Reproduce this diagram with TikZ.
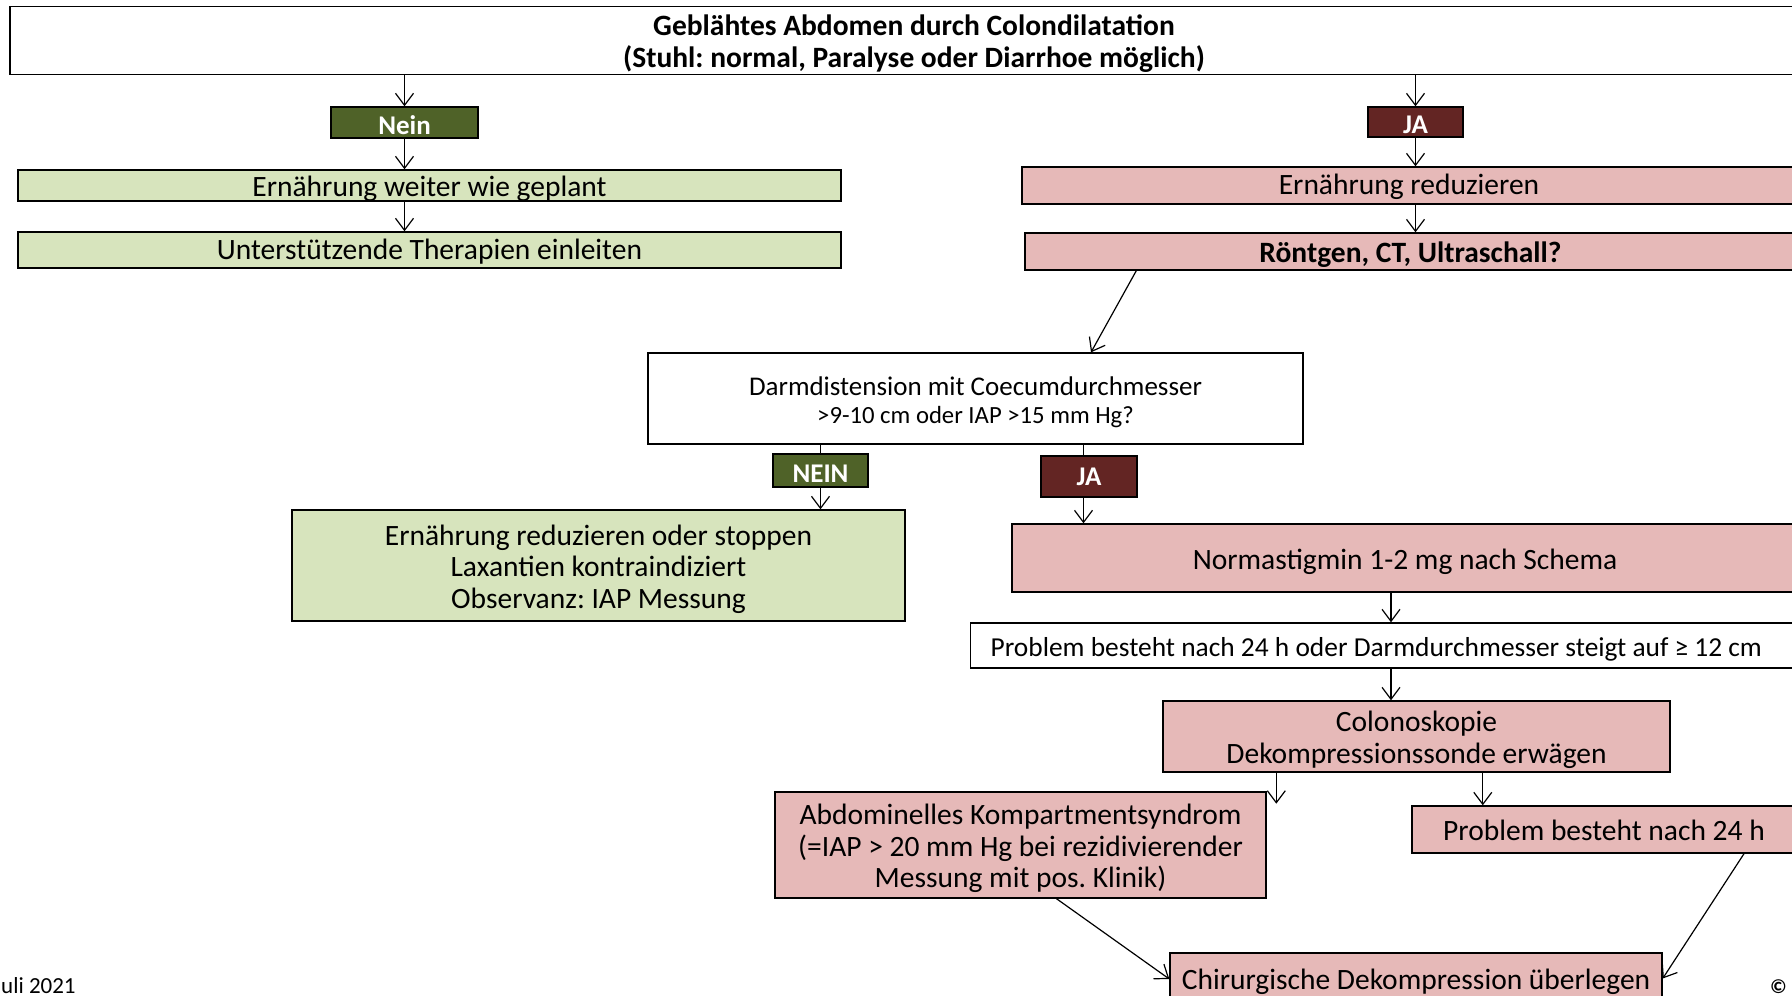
\documentclass[tikz,border=0pt]{standalone}
\usepackage{fontspec}
\setmainfont{Carlito}
\usetikzlibrary{arrows.meta}
\definecolor{lgreen}{HTML}{D7E4BD}
\definecolor{lpink}{HTML}{E6B9B8}
\definecolor{dgreen}{HTML}{4F6228}
\definecolor{dred}{HTML}{632523}
\newcommand{\mytop}{\rule{0pt}{29.5pt}}
\newcommand{\titletop}{\rule{0pt}{28.5pt}}
\newcommand{\mybot}{\rule[-7pt]{0pt}{7pt}}
\newcommand{\tagtop}{\rule{0pt}{24pt}}
\frenchspacing
\begin{document}
\begin{tikzpicture}[x=1pt,y=-1pt,
  box/.style={draw=black, line width=1.4pt, inner sep=0pt, anchor=center, align=center, font=\fontsize{29.5}{31.5}\selectfont},
  gbox/.style={box, fill=lgreen},
  pbox/.style={box, fill=lpink},
  wbox/.style={box, fill=white},
  tag/.style={draw=black, line width=1.4pt, inner sep=0pt, anchor=center, text=white, font=\bfseries\fontsize{27}{27}\selectfont},
  arr/.style={line width=1.2pt, -{Straight Barb[length=12pt,width=18pt]}},
  ln/.style={line width=1.2pt}]
\useasboundingbox (0,0) rectangle (1792,996);
\clip (0,0) rectangle (1792,996);
\fill[white] (0,0) rectangle (1792,996);

% nodes
\node[wbox, minimum width=1808pt, minimum height=65pt, font=\bfseries\fontsize{29.5}{32}\selectfont] (title) at (914,40.5) {\titletop Geblähtes Abdomen durch Colondilatation\\(Stuhl: normal, Paralyse oder Diarrhoe möglich)\mybot};
\node[tag, fill=dgreen, minimum width=147pt, minimum height=31pt] (nein1) at (404.5,122.5) {\tagtop Nein};
\node[tag, fill=dred, minimum width=95pt, minimum height=30pt] (ja1) at (1415.5,122) {\tagtop JA};
\node[gbox, minimum width=823pt, minimum height=31pt, text height=26.5pt, text depth=4pt] (g1) at (429.5,185.5) {Ernährung weiter wie geplant};
\node[gbox, minimum width=823pt, minimum height=36pt, text height=26pt, text depth=7pt] (g2) at (429.5,250) {Unterstützende Therapien einleiten};
\node[pbox, minimum width=774pt, minimum height=37pt, text height=25pt, text depth=7pt] (r1) at (1409,185.5) {Ernährung reduzieren};
\node[pbox, minimum width=771pt, minimum height=37pt, font=\bfseries\fontsize{29.5}{31.5}\selectfont] (r2) at (1410.5,251.5) {\mytop Röntgen, CT, Ultraschall?\mybot};
\node[wbox, minimum width=655pt, minimum height=91pt, font=\fontsize{27}{28}\selectfont] (dd) at (975.5,398.5) {\mytop Darmdistension mit Coecumdurchmesser\\{\fontsize{24.7}{28}\selectfont >9-10 cm oder IAP >15 mm Hg?}\mybot};
\node[tag, fill=dgreen, minimum width=95pt, minimum height=33pt] (nein2) at (820.5,470.5) {\tagtop NEIN};
\node[tag, fill=dred, minimum width=96pt, minimum height=41pt] (ja2) at (1089,476.5) {JA};
\node[gbox, minimum width=613pt, minimum height=111pt] (g3) at (598.5,565.5) {\mytop Ernährung reduzieren oder stoppen\\Laxantien kontraindiziert\\Observanz: IAP Messung\mybot};
\node[pbox, minimum width=786pt, minimum height=68pt] (norm) at (1405,558) {\mytop Normastigmin 1-2 mg nach Schema\mybot};
\node[wbox, anchor=west, inner xsep=20pt, text width=1200pt, align=left, minimum height=45pt, font=\fontsize{27.4}{28}\selectfont] (prob1) at (970,645.5) {\spaceskip=0pt\xspaceskip=0pt\mytop Problem besteht nach 24 h oder Darmdurchmesser steigt auf ≥ 12 cm\mybot};
\node[pbox, minimum width=507pt, minimum height=71pt, font=\fontsize{29.5}{32}\selectfont] (colo) at (1416.5,736.5) {\mytop Colonoskopie\\Dekompressionssonde erwägen\mybot};
\node[pbox, minimum width=491pt, minimum height=106pt] (abd) at (1020.5,845) {\mytop Abdominelles Kompartmentsyndrom\\(=IAP > 20 mm Hg bei rezidivierender\\Messung mit pos. Klinik)\mybot};
\node[pbox, minimum width=384pt, minimum height=47pt] (prob2) at (1604,829.5) {\mytop Problem besteht nach 24 h\mybot};
\node[pbox, minimum width=492pt, minimum height=57pt] (chir) at (1416,981.5) {Chirurgische Dekompression überlegen};
\node[anchor=base west, inner sep=0pt, font=\fontsize{23}{23}\selectfont] (date) at (1,993) {uli 2021};
\node[anchor=base west, inner sep=0pt, font=\bfseries\fontsize{20}{20}\selectfont] (copy) at (1770,993) {©};

% connectors
\draw[arr] (title.south -| nein1) -- (nein1.north);
\draw[arr] (nein1.south) -- (g1.north -| nein1);
\draw[arr] (g1.south -| nein1) -- (g2.north -| nein1);
\draw[arr] (title.south -| ja1) -- (ja1.north);
\draw[arr] (ja1.south) -- (r1.north -| ja1);
\draw[arr] (r1.south -| ja1) -- (r2.north -| ja1);
\draw[arr] ([xshift=112pt]r2.south west) -- ([xshift=115.5pt]dd.north);
\draw[ln] (dd.south -| nein2) -- (nein2.north);
\draw[arr] (nein2.south) -- (g3.north -| nein2);
\coordinate (jx2) at ([xshift=-5.5pt]ja2.center);
\draw[ln] (dd.south -| jx2) -- (ja2.north -| jx2);
\draw[arr] (ja2.south -| jx2) -- (norm.north -| jx2);
\coordinate (nx) at ([xshift=-14pt]norm.center);
\draw[arr] (norm.south -| nx) -- (prob1.north -| nx);
\draw[arr] (prob1.south -| nx) -- (colo.north -| nx);
\coordinate (cl) at ([xshift=114pt]colo.south west);
\coordinate (cle) at ([yshift=-31pt]cl);
\draw[arr] (cl) -- (cle);
\coordinate (cr) at ([xshift=320.5pt]colo.south west);
\draw[arr] (cr) -- (cr |- prob2.north);
\draw[arr] ([xshift=36pt]abd.south) -- ([yshift=2.5pt]chir.west);
\draw[arr] ([xshift=140pt]prob2.south) -- ([yshift=3pt]chir.east);
\end{tikzpicture}
\end{document}
